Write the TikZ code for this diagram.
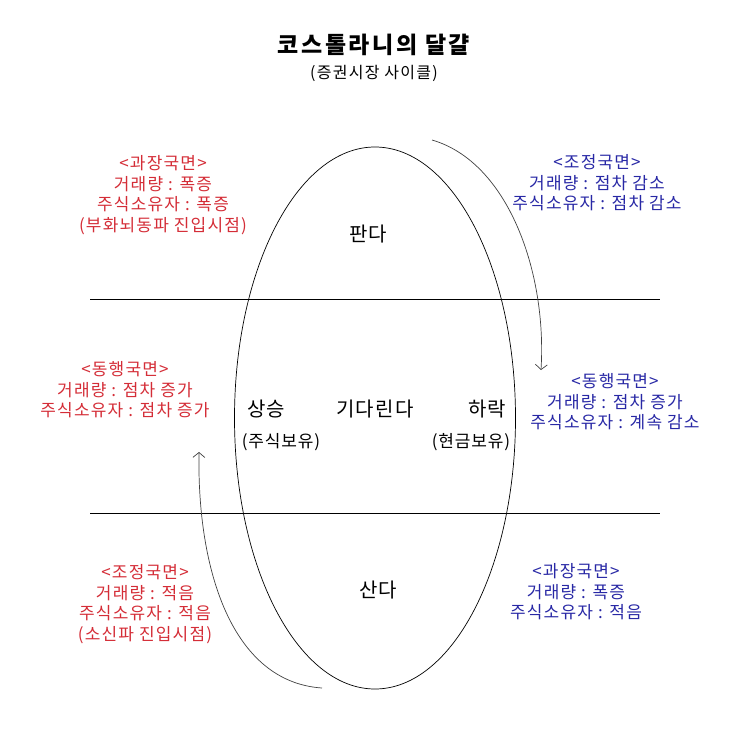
\documentclass[tikz,border=0pt]{standalone}
\usepackage{fontspec}
\setmainfont{Noto Sans CJK KR}
\usetikzlibrary{shapes.geometric, arrows.meta}
\definecolor{upred}{RGB}{212,45,55}
\definecolor{downblue}{RGB}{40,40,165}
\tikzset{
  phase/.style = {align=center, inner sep=0pt, font=\fontsize{17}{20.5}\selectfont\addfontfeature{LetterSpace=7}},
  redphase/.style = {phase, text=upred},
  bluephase/.style = {phase, text=downblue},
  eggtext/.style = {inner sep=0pt, font=\fontsize{20}{22}\selectfont\addfontfeature{LetterSpace=6}},
  holdtext/.style = {inner sep=0pt, font=\fontsize{17}{19}\selectfont\addfontfeature{LetterSpace=5}},
  cycle/.style = {draw=black!75, line width=0.7pt, -{Straight Barb[length=5pt, width=12pt]}}
}
\begin{document}
\begin{tikzpicture}[x=1pt, y=-1pt]
  \useasboundingbox (0,0) rectangle (743,744);
  % title
  \node [inner sep=0pt, font=\fontsize{23}{26}\bfseries\selectfont\addfontfeature{LetterSpace=11}] (title) at (374,45) {코스톨라니의 달걀};
  \node [inner sep=0pt, font=\fontsize{16}{18}\selectfont\addfontfeature{LetterSpace=8}] (subtitle) at (374,73) {(증권시장 사이클)};
  % egg and borders
  \node [draw, ellipse, line width=0.7pt, minimum width=281, minimum height=542, inner sep=0pt] (egg) at (375,418) {};
  \coordinate (topL) at (90,299);
  \coordinate (topR) at (660,299);
  \coordinate (botL) at (90,513);
  \coordinate (botR) at (660,513);
  \draw [line width=0.7pt] (topL) -- (topR);
  \draw [line width=0.7pt] (botL) -- (botR);
  % inside the egg
  \node [eggtext] (sell) at (368,234) {판다};
  \node [eggtext] (rise) at (266,409) {상승};
  \node [eggtext] (wait) at (375,409) {기다린다};
  \node [eggtext] (fall) at (487,409) {하락};
  \node [holdtext] (stock) at (281,442) {(주식보유)};
  \node [holdtext] (cash) at (471,442) {(현금보유)};
  \node [eggtext] (buy) at (378,590) {산다};
  % phases
  \node [redphase] (boomL) at (163,195) {<과장국면>\\거래량 : 폭증\\주식소유자 : 폭증\\(부화뇌동파 진입시점)};
  \node [bluephase] (fixR) at (597,183) {<조정국면>\\거래량 : 점차 감소\\주식소유자 : 점차 감소};
  \node [redphase] (withL) at (125,390) {<동행국면>\\거래량 : 점차 증가\\주식소유자 : 점차 증가};
  \node [bluephase] (withR) at (615,402) {<동행국면>\\거래량 : 점차 증가\\주식소유자 : 계속 감소};
  \node [redphase] (fixL) at (145,604) {<조정국면>\\거래량 : 적음\\주식소유자 : 적음\\(소신파 진입시점)};
  \node [bluephase] (boomR) at (576,592) {<과장국면>\\거래량 : 폭증\\주식소유자 : 적음};
  % cycle arrows
  \coordinate (downS) at (432,140);
  \coordinate (downE) at (541,370);
  \coordinate (upS) at (322,688);
  \coordinate (upE) at (199,452);
  \draw [cycle] (downS) .. controls (508,162) and (547,272) .. (downE);
  \draw [cycle] (upS) .. controls (232,682) and (197,570) .. (upE);
\end{tikzpicture}
\end{document}
